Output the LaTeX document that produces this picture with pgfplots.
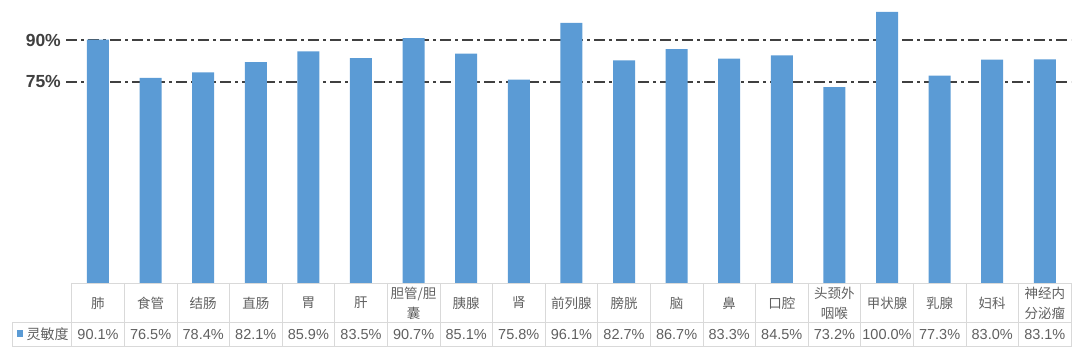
\documentclass[border=0pt]{standalone}
\usepackage{fontspec}
\setmainfont{Liberation Sans}
\newfontfamily\cjk{Noto Sans CJK SC}
\usepackage{pgfplots}
\pgfplotsset{compat=1.18}
\definecolor{barblue}{HTML}{5B9BD5}
\definecolor{gridc}{HTML}{D9D9D9}
\definecolor{txt}{HTML}{606060}
\definecolor{refl}{HTML}{404040}
\begin{document}
\begin{tikzpicture}[x=1pt,y=1pt]
\path[use as bounding box] (0,0) rectangle (1080,356);
\begin{axis}[
  at={(66pt,73pt)}, anchor=south west,
  width=1005.1pt, height=278pt, scale only axis,
  xmin=-0.108, xmax=19, ymin=3.2, ymax=102.5,
  axis line style={draw=none},
  tick style={draw=none},
  ytick={75,90},
  yticklabels={75\%,90\%},
  yticklabel style={font=\bfseries\fontsize{17.5}{17.5}\selectfont, text=refl, inner sep=1pt, xshift=-4pt},
  xtick={0.5,1.5,...,18.5},
  xticklabels={肺,食管,结肠,直肠,胃,肝,{胆管/胆\\囊},胰腺,肾,前列腺,膀胱,脑,鼻,口腔,{头颈外\\咽喉},甲状腺,乳腺,妇科,{神经内\\分泌瘤}},
  xticklabel style={font=\cjk\fontsize{13.5}{20}\selectfont, text=txt, align=center, anchor=center, yshift=-20pt},
]
\addplot[refl, line width=1.2pt, dash pattern=on 11pt off 4pt on 3pt off 4pt] coordinates {(-0.108,90) (19,90)};
\addplot[refl, line width=1.2pt, dash pattern=on 11pt off 4pt on 3pt off 4pt] coordinates {(-0.108,75) (19,75)};
\addplot[ybar, bar width=22pt, fill=barblue, draw=none] coordinates {
(0.5,90.1) (1.5,76.5) (2.5,78.4) (3.5,82.1) (4.5,85.9) (5.5,83.5) (6.5,90.7) (7.5,85.1) (8.5,75.8) (9.5,96.1)
(10.5,82.7) (11.5,86.7) (12.5,83.3) (13.5,84.5) (14.5,73.2) (15.5,100.0) (16.5,77.3) (17.5,83.0) (18.5,83.1)};
\end{axis}
% table grid
\draw[gridc, line width=0.8pt] (71.7,{356-283}) -- (1071.1,{356-283});
\draw[gridc, line width=0.8pt] (12,{356-322.7}) -- (1071.1,{356-322.7});
\draw[gridc, line width=0.8pt] (12,{356-346.7}) -- (1071.1,{356-346.7});
\draw[gridc, line width=0.8pt] (12,{356-322.7}) -- (12,{356-346.7});
\foreach \k in {0,...,19} {
  \draw[gridc, line width=0.8pt] ({71.7+52.6*\k},{356-283}) -- ({71.7+52.6*\k},{356-346.7});
}
% legend cell
\fill[barblue] (16.7,{356-330}) rectangle (23.3,{356-337});
\node[anchor=west, inner sep=0pt, text=txt, font=\cjk\fontsize{14}{14}\selectfont] at (26.5,{356-334}) {灵敏度};
% values row
\foreach \v [count=\i from 0] in {90.1,76.5,78.4,82.1,85.9,83.5,90.7,85.1,75.8,96.1,82.7,86.7,83.3,84.5,73.2,100.0,77.3,83.0,83.1} {
  \node[inner sep=0pt, text=txt, font=\fontsize{14.5}{14.5}\selectfont] at ({71.7+52.6*(\i+0.5)},{356-335}) {\v\%};
}
\end{tikzpicture}
\end{document}
